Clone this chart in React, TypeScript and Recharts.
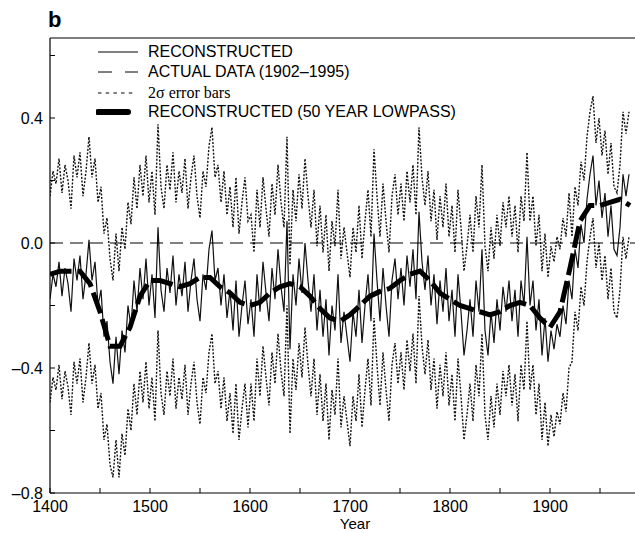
import { LineChart, Line, XAxis, YAxis, ReferenceLine } from 'recharts'

// reconstruction + 2 sigma bounds, sampled every 3 years from 1400
const startYear = 1400
const stepYears = 3

const reconstructed = [
  -0.18, -0.10, -0.14, -0.06, -0.17, -0.08, -0.13, -0.22, -0.05, -0.12,
  -0.04, -0.18, -0.10, 0.01, -0.12, -0.06, -0.20, -0.15, -0.30, -0.25,
  -0.38, -0.45, -0.30, -0.42, -0.28, -0.35, -0.20, -0.27, -0.12, -0.22,
  -0.08, -0.18, -0.05, -0.20, -0.10, -0.24, 0.05, -0.15, -0.22, -0.08,
  -0.16, -0.04, -0.20, -0.10, -0.17, -0.06, -0.22, -0.12, -0.05, -0.18,
  -0.25, -0.10, -0.15, -0.02, 0.04, -0.12, -0.08, -0.20, -0.10, -0.24,
  -0.15, -0.28, -0.12, -0.30, -0.20, -0.12, -0.26, -0.18, -0.30, -0.10,
  -0.22, -0.06, -0.16, -0.25, -0.08, -0.18, -0.02, -0.14, -0.22, 0.07,
  -0.34, -0.10, -0.20, -0.05, -0.16, 0.00, -0.12, -0.22, -0.10, -0.28,
  -0.15, -0.30, -0.18, -0.36, -0.20, -0.28, -0.10, -0.32, -0.22, -0.30,
  -0.38, -0.22, -0.30, -0.15, -0.32, -0.20, -0.10, -0.25, 0.03, -0.12,
  -0.25, -0.08, -0.20, -0.30, -0.12, -0.05, -0.18, -0.08, -0.20, -0.04,
  -0.14, -0.02, -0.18, 0.10, -0.06, -0.15, -0.04, -0.20, -0.10, -0.26,
  -0.12, -0.22, -0.08, -0.25, -0.15, -0.30, -0.10, -0.22, -0.36, -0.28,
  -0.18, -0.30, -0.12, -0.22, -0.02, -0.28, -0.36, -0.22, -0.32, -0.18,
  -0.28, -0.14, -0.22, -0.12, -0.25, -0.15, -0.30, -0.12, -0.20, 0.02,
  -0.20, -0.12, -0.28, -0.18, -0.36, -0.24, -0.38, -0.28, -0.34, -0.26,
  -0.30, -0.20, -0.26, -0.12, -0.18, -0.02, -0.08, 0.06, 0.00, 0.14,
  0.22, 0.28, 0.12, 0.20, 0.08, 0.16, 0.02, 0.12, -0.02, -0.04,
  0.05, 0.22, 0.15, 0.22,
]

const upperError = [
  0.15, 0.23, 0.19, 0.27, 0.16, 0.25, 0.20, 0.11, 0.28, 0.21,
  0.29, 0.15, 0.23, 0.34, 0.21, 0.27, 0.13, 0.18, 0.03, 0.08,
  -0.05, -0.12, 0.03, -0.09, 0.05, -0.02, 0.13, 0.06, 0.21, 0.11,
  0.25, 0.15, 0.28, 0.13, 0.23, 0.09, 0.38, 0.18, 0.11, 0.25,
  0.17, 0.29, 0.13, 0.23, 0.16, 0.27, 0.11, 0.21, 0.28, 0.15,
  0.08, 0.23, 0.18, 0.31, 0.37, 0.21, 0.25, 0.13, 0.23, 0.09,
  0.18, 0.05, 0.21, 0.03, 0.13, 0.21, 0.07, 0.09, -0.03, 0.17,
  0.05, 0.21, 0.11, 0.02, 0.19, 0.09, 0.25, 0.13, 0.05, 0.34,
  -0.07, 0.17, 0.07, 0.22, 0.11, 0.27, 0.15, 0.05, 0.17, -0.01,
  0.12, -0.03, 0.09, -0.09, 0.07, -0.01, 0.17, -0.05, 0.05, -0.03,
  -0.11, 0.05, -0.03, 0.12, -0.05, 0.07, 0.17, 0.02, 0.30, 0.15,
  0.02, 0.19, 0.07, -0.03, 0.15, 0.22, 0.09, 0.19, 0.07, 0.23,
  0.13, 0.25, 0.09, 0.37, 0.21, 0.12, 0.23, 0.07, 0.17, 0.01,
  0.15, 0.05, 0.19, 0.02, 0.12, -0.03, 0.17, 0.05, -0.09, -0.01,
  0.09, -0.03, 0.15, 0.05, 0.25, -0.01, -0.09, 0.05, -0.05, 0.09,
  -0.01, 0.13, 0.05, 0.15, 0.02, 0.12, -0.03, 0.15, 0.07, 0.29,
  0.07, 0.15, -0.01, 0.09, -0.09, 0.03, -0.11, -0.01, -0.06, 0.02,
  -0.02, 0.08, 0.02, 0.16, 0.02, 0.18, 0.12, 0.26, 0.20, 0.34,
  0.42, 0.47, 0.32, 0.40, 0.28, 0.36, 0.22, 0.32, 0.18, 0.16,
  0.25, 0.42, 0.35, 0.42,
]

const lowerError = [
  -0.51, -0.43, -0.47, -0.39, -0.50, -0.41, -0.46, -0.55, -0.38, -0.45,
  -0.37, -0.51, -0.43, -0.32, -0.45, -0.39, -0.53, -0.48, -0.63, -0.58,
  -0.71, -0.75, -0.63, -0.75, -0.61, -0.68, -0.53, -0.60, -0.45, -0.55,
  -0.41, -0.51, -0.38, -0.53, -0.43, -0.57, -0.28, -0.48, -0.55, -0.41,
  -0.49, -0.37, -0.53, -0.43, -0.50, -0.39, -0.55, -0.45, -0.38, -0.51,
  -0.58, -0.43, -0.48, -0.35, -0.29, -0.45, -0.41, -0.53, -0.43, -0.57,
  -0.48, -0.61, -0.45, -0.63, -0.53, -0.45, -0.59, -0.45, -0.57, -0.37,
  -0.49, -0.33, -0.43, -0.52, -0.35, -0.45, -0.29, -0.41, -0.49, -0.20,
  -0.61, -0.37, -0.47, -0.32, -0.43, -0.27, -0.39, -0.49, -0.37, -0.55,
  -0.42, -0.57, -0.45, -0.63, -0.47, -0.55, -0.37, -0.59, -0.49, -0.57,
  -0.65, -0.49, -0.57, -0.42, -0.59, -0.47, -0.37, -0.52, -0.24, -0.39,
  -0.52, -0.35, -0.47, -0.57, -0.39, -0.32, -0.45, -0.35, -0.47, -0.31,
  -0.41, -0.29, -0.45, -0.17, -0.33, -0.42, -0.31, -0.47, -0.37, -0.53,
  -0.39, -0.49, -0.35, -0.52, -0.42, -0.57, -0.37, -0.49, -0.63, -0.55,
  -0.45, -0.57, -0.39, -0.49, -0.29, -0.55, -0.63, -0.49, -0.59, -0.45,
  -0.55, -0.41, -0.49, -0.39, -0.52, -0.42, -0.57, -0.39, -0.47, -0.25,
  -0.47, -0.39, -0.55, -0.45, -0.63, -0.51, -0.65, -0.55, -0.62, -0.54,
  -0.58, -0.48, -0.54, -0.40, -0.38, -0.22, -0.28, -0.14, -0.20, -0.06,
  0.02, 0.08, -0.08, 0.00, -0.12, -0.04, -0.18, -0.08, -0.22, -0.24,
  -0.15, 0.02, -0.05, 0.02,
]

// 50 year lowpass, every 10 years from 1400
const lowpassStep = 10
const lowpass = [
  -0.10, -0.09, -0.09, -0.09, -0.13, -0.22, -0.33, -0.33, -0.27, -0.17,
  -0.12, -0.12, -0.13, -0.14, -0.13, -0.11, -0.11, -0.14, -0.16, -0.19,
  -0.20, -0.19, -0.16, -0.14, -0.13, -0.14, -0.17, -0.21, -0.24, -0.25,
  -0.23, -0.20, -0.17, -0.155, -0.145, -0.12, -0.10, -0.09, -0.12, -0.16,
  -0.18, -0.20, -0.21, -0.22, -0.23, -0.22, -0.20, -0.19, -0.20, -0.24,
  -0.27, -0.22, -0.08, 0.07, 0.12, 0.12, 0.13, 0.14, 0.12,
]

const xTicks = [1400, 1450, 1500, 1550, 1600, 1650, 1700, 1750, 1800, 1850, 1900, 1950]
const xLabelled = [1400, 1500, 1600, 1700, 1800, 1900]
const yTicks = [-0.8, -0.6, -0.4, -0.2, 0, 0.2, 0.4, 0.6]
const yLabelled = [-0.8, -0.4, 0, 0.4]
const Y_TOP = 0.656

const legendItems = [
  { label: 'RECONSTRUCTED', kind: 'solid' },
  { label: 'ACTUAL DATA (1902–1995)', kind: 'dashed' },
  { label: '2σ error bars', kind: 'dotted' },
  { label: 'RECONSTRUCTED (50 YEAR LOWPASS)', kind: 'thick' },
]

const SANS = "Arial, 'Liberation Sans', Helvetica, sans-serif"
const SERIF = "'Times New Roman', 'Liberation Serif', serif"

const rowsByYear = new Map<number, any>()
const rowFor = (year: number) => {
  if (!rowsByYear.has(year)) rowsByYear.set(year, { year })
  return rowsByYear.get(year)
}
reconstructed.forEach((v, i) => {
  const r = rowFor(startYear + i * stepYears)
  r.recon = v
  r.upper = upperError[i]
  r.lower = lowerError[i]
})
lowpass.forEach((v, i) => {
  rowFor(startYear + i * lowpassStep).lowpass = v
})
const data = Array.from(rowsByYear.values()).sort((a, b) => a.year - b.year)

const fmt = (v: number) => (v < 0 ? '–' : '') + Math.abs(v).toFixed(1)

function XTick(props: any) {
  const { x, y, payload } = props
  const axisY = y - 6
  const v = payload.value
  return (
    <g>
      <line x1={x} y1={axisY} x2={x} y2={axisY - 5} stroke="#000" />
      {xLabelled.includes(v) && (
        <text x={x} y={axisY + 18.5} textAnchor="middle" fontSize={16} fontFamily={SANS} fill="#000">
          {v}
        </text>
      )}
    </g>
  )
}

function YTick(props: any) {
  const { x, y, payload } = props
  const axisX = x + 6
  const v = Math.round(payload.value * 10) / 10
  return (
    <g>
      <line x1={axisX} y1={y} x2={axisX + 5} y2={y} stroke="#000" />
      {yLabelled.includes(v) && (
        <text x={axisX - 7} y={y + 6} textAnchor="end" fontSize={16} fontFamily={SANS} fill="#000">
          {fmt(v)}
        </text>
      )}
    </g>
  )
}

function Sample({ kind }: { kind: string }) {
  const common = { x1: 2, x2: 42, y1: 8, y2: 8, stroke: '#000' }
  let el
  if (kind === 'solid') el = <line {...common} strokeWidth={1} />
  else if (kind === 'dashed') el = <line {...common} strokeWidth={1} strokeDasharray="14 13" />
  else if (kind === 'dotted') el = <line {...common} x2={38} strokeWidth={1} strokeDasharray="3.5 4.2" />
  else el = <line {...common} x2={32} strokeWidth={6} strokeLinecap="round" />
  return (
    <svg width={45} height={16} style={{ display: 'block' }}>
      {el}
    </svg>
  )
}

export default function App() {
  const rowCenters = [52, 72, 93, 112]
  return (
    <div style={{ position: 'absolute', left: 0, top: 0, width: 635, height: 533, background: '#fff' }}>
      <div
        style={{ position: 'absolute', left: 48, top: 9, fontFamily: SANS, fontWeight: 'bold', fontSize: 22, lineHeight: '22px' }}
      >
        b
      </div>
      <LineChart width={635} height={533} data={data} margin={{ top: 38, right: 0, bottom: 0, left: 0 }}>
        <XAxis
          type="number"
          dataKey="year"
          domain={[1400, 1985]}
          allowDataOverflow
          ticks={xTicks}
          interval={0}
          tickSize={0}
          tickMargin={6}
          tick={<XTick />}
          axisLine={{ stroke: '#000', strokeWidth: 1.2 }}
          height={40}
        />
        <YAxis
          type="number"
          domain={[-0.8, Y_TOP]}
          allowDataOverflow
          ticks={yTicks}
          interval={0}
          tickSize={0}
          tickMargin={6}
          tick={<YTick />}
          axisLine={{ stroke: '#000', strokeWidth: 1.2 }}
          width={50}
        />
        <ReferenceLine y={Y_TOP} stroke="#000" strokeWidth={1.2} />
        <Line dataKey="upper" stroke="#111" strokeWidth={1.4} strokeDasharray="2 1.6" dot={false} connectNulls isAnimationActive={false} />
        <Line dataKey="lower" stroke="#111" strokeWidth={1.4} strokeDasharray="2 1.6" dot={false} connectNulls isAnimationActive={false} />
        <Line dataKey="recon" stroke="#111" strokeWidth={1.2} dot={false} connectNulls isAnimationActive={false} />
        <Line dataKey="lowpass" stroke="#000" strokeWidth={5} strokeDasharray="22 6" dot={false} connectNulls isAnimationActive={false} />
        <ReferenceLine y={0} stroke="#000" strokeWidth={1} strokeDasharray="13 7" />
      </LineChart>
      <div
        style={{
          position: 'absolute',
          left: 325,
          width: 60,
          top: 516,
          textAlign: 'center',
          fontFamily: SANS,
          fontSize: 15,
          lineHeight: '15px',
          color: '#000',
        }}
      >
        Year
      </div>
      {legendItems.map((item, i) => (
        <div
          key={item.label}
          style={{ position: 'absolute', left: 96, top: rowCenters[i] - 8, height: 16, display: 'flex', alignItems: 'center' }}
        >
          <Sample kind={item.kind} />
          <span
            style={{
              marginLeft: 7,
              fontFamily: item.kind === 'dotted' ? SERIF : SANS,
              fontSize: 16,
              lineHeight: '16px',
              color: '#000',
              whiteSpace: 'nowrap',
            }}
          >
            {item.label}
          </span>
        </div>
      ))}
    </div>
  )
}
